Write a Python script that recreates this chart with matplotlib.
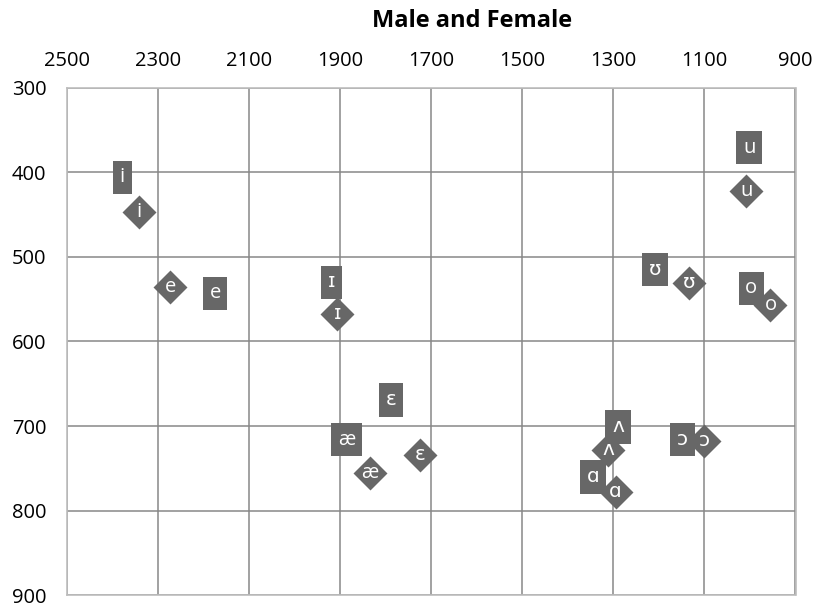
import matplotlib
matplotlib.use('Agg')
import matplotlib.pyplot as plt

# Data (F2 on x, F1 on y)
vowels = ['i', 'e', 'ɪ', 'ɛ', 'æ', 'ʌ', 'ɑ', 'ɔ', 'u', 'ʊ', 'o']
square_f2 = [2379, 2175, 1919, 1788, 1886, 1290, 1344, 1148, 1002, 1209, 997]
square_f1 = [406, 543, 530, 669, 716, 701, 760, 716, 371, 515, 537]
diamond_f2 = [2342, 2274, 1907, 1724, 1836, 1311, 1295, 1101, 1008, 1133, 955]
diamond_f1 = [447, 536, 567, 734, 756, 728, 778, 718, 422, 531, 557]

x_ticks = [2500, 2300, 2100, 1900, 1700, 1500, 1300, 1100, 900]
y_ticks = [300, 400, 500, 600, 700, 800, 900]
title = 'Male and Female'

FAM = ['Open Sans', 'DejaVu Sans']
plt.rcParams['font.family'] = FAM
MARK = '#676767'

fig = plt.figure(figsize=(8.17, 6.05), dpi=100)
ax = fig.add_axes([67.3 / 817, 1 - 595.3 / 605, (795.5 - 67.3) / 817, (595.3 - 87.7) / 605])
ax.set_xlim(2500, 900)
ax.set_ylim(900, 300)
ax.xaxis.tick_top()
ax.set_xticks(x_ticks)
ax.set_yticks(y_ticks)
ax.tick_params(axis='both', length=0, labelsize=14.5, colors='black')
ax.tick_params(axis='x', pad=12)
ax.tick_params(axis='y', pad=15)
ax.set_axisbelow(True)
ax.grid(True, color='#878787', linewidth=1.1)
for s in ax.spines.values():
    s.set_color('#BDBDBD')
    s.set_linewidth(1.2)

# diamonds
ax.scatter(diamond_f2, diamond_f1, marker='D', s=17.3 ** 2, color=MARK,
           linewidths=0, zorder=3)
for v, x, y in zip(vowels, diamond_f2, diamond_f1):
    ax.text(x, y, v, ha='center', va='center', color='white', fontsize=14.5,
            family=FAM, zorder=5)

# squares (filled labels)
for v, x, y in zip(vowels, square_f2, square_f1):
    ax.text(x, y, v, ha='center', va='center', color='white', fontsize=14.5,
            family=FAM, zorder=4,
            bbox=dict(boxstyle='square,pad=0.33', facecolor=MARK, edgecolor='none'))

fig.text(472 / 817, 1 - 21 / 605, title, ha='center', va='center',
         fontsize=17, fontweight='bold', family=FAM)

fig.savefig('out.png', dpi=100)
